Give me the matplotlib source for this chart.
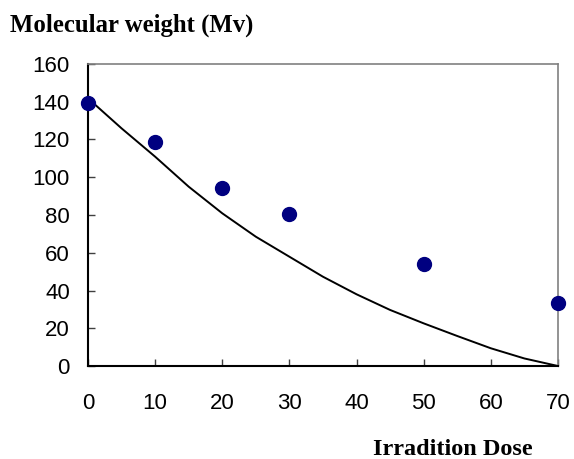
import matplotlib
matplotlib.use("Agg")
import matplotlib.pyplot as plt

# Measured molecular weight at each irradiation dose
dose = [0, 10, 20, 30, 50, 70]
mol_weight = [139.5, 118.5, 94.5, 80.5, 54, 33.5]

# Trend line values
trend_dose = [0, 5, 10, 15, 20, 25, 30, 35, 40, 45, 50, 55, 60, 65, 70]
trend_mw = [141.8, 125.9, 110.9, 95.0, 80.9, 68.5, 57.9, 47.3, 38.0, 29.7, 22.6, 15.9, 9.4, 4.0, 0.0]

x_ticks = [0, 10, 20, 30, 40, 50, 60, 70]
y_ticks = [0, 20, 40, 60, 80, 100, 120, 140, 160]

fig = plt.figure(figsize=(5.74, 4.59), dpi=100)
ax = fig.add_axes([0.1533, 0.2026, 0.8187, 0.658])

ax.plot(trend_dose, trend_mw, color="black", lw=1.4, clip_on=False, zorder=2)
ax.plot(dose, mol_weight, "o", color="#000080", markersize=10, clip_on=False, zorder=3)

ax.set_xlim(0, 70)
ax.set_ylim(0, 160)
ax.set_xticks(x_ticks)
ax.set_yticks(y_ticks)

tick_font = {"family": "Liberation Sans", "size": 16}
ax.set_xticklabels([str(v) for v in x_ticks], fontdict=tick_font)
ax.set_yticklabels([str(v) for v in y_ticks], fontdict=tick_font)
ax.tick_params(direction="in", length=5, width=1, color="#404040")
ax.tick_params(axis="y", pad=13)
ax.tick_params(axis="x", pad=19.5)

for side in ("left", "bottom"):
    ax.spines[side].set_color("black")
    ax.spines[side].set_linewidth(1.5)
for side in ("top", "right"):
    ax.spines[side].set_color("#808080")
    ax.spines[side].set_linewidth(1.2)

fig.text(0.0174, 0.931, "Molecular weight (Mv)", family="Liberation Serif",
         weight="bold", size=17.8, ha="left", va="baseline")
fig.text(0.65, 0.009, "Irradition Dose", family="Liberation Serif",
         weight="bold", size=17.5, ha="left", va="baseline")

fig.savefig("out.png", dpi=100)
